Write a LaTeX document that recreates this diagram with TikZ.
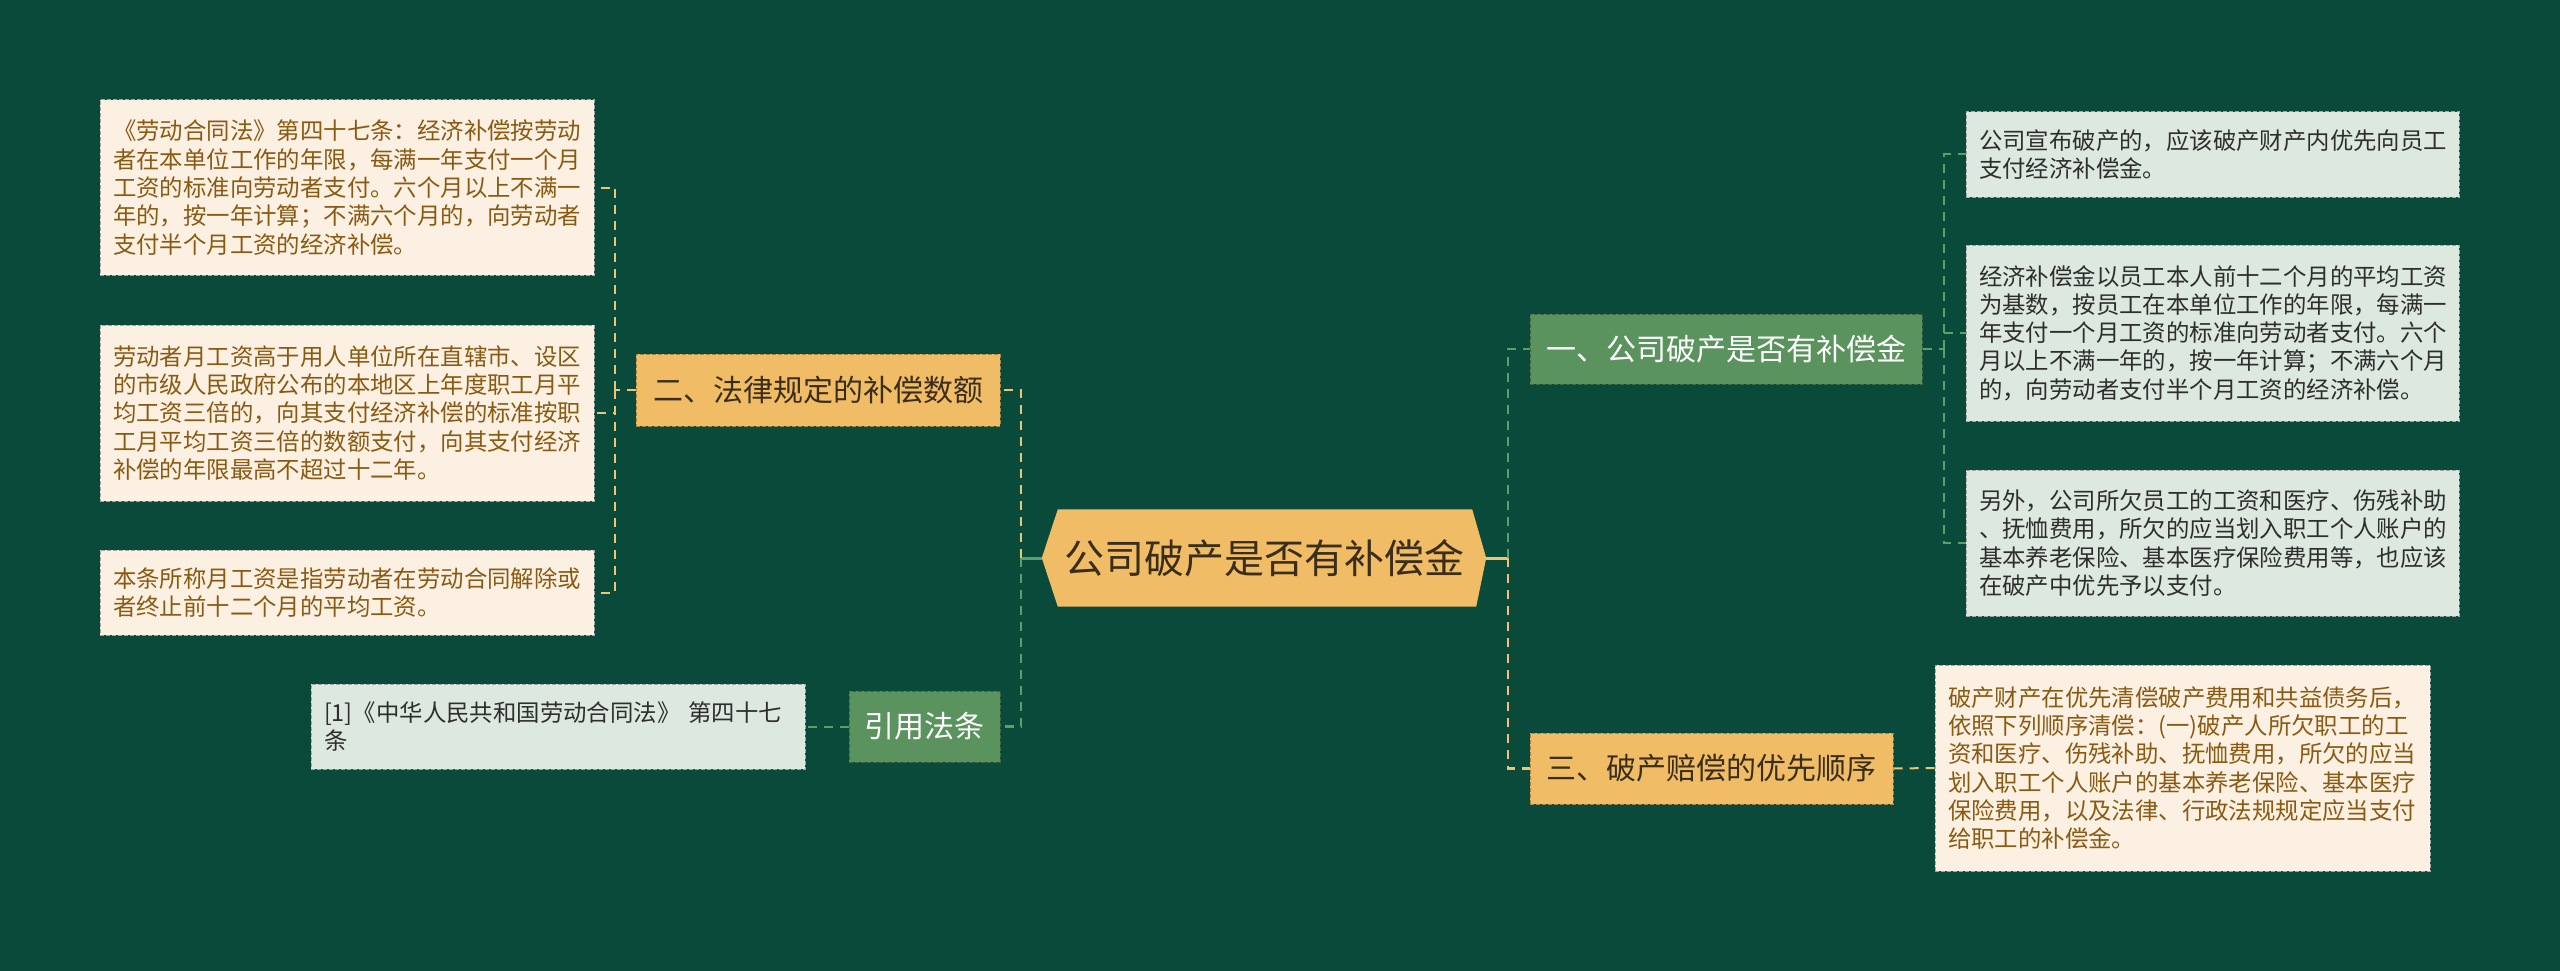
\documentclass[tikz,border=0pt]{standalone}
\usepackage{fontspec}
\newfontfamily\cjk{Noto Sans CJK SC}
\usetikzlibrary{backgrounds}
\definecolor{bgc}{HTML}{0A4A3A}
\definecolor{orng}{HTML}{F0BD66}
\definecolor{gnode}{HTML}{5A935E}
\definecolor{lgbox}{HTML}{DDE8DF}
\definecolor{cream}{HTML}{FCF0E2}
\definecolor{ylin}{HTML}{EEC46C}
\definecolor{glin}{HTML}{5E9E69}
\definecolor{brn}{HTML}{8A5A12}
\definecolor{dtxt}{HTML}{2E2E2E}
\definecolor{otxt}{HTML}{3A2E1A}
\tikzset{
  txtbox/.style={draw=#1, dashed, dash pattern=on 4pt off 2pt, line width=1pt, inner xsep=13pt, inner ysep=0pt, align=left,
    font=\cjk\fontsize{23.4}{28.3}\selectfont},
  creambox/.style={txtbox=gray!70, fill=cream, text=brn},
  greenbox/.style={txtbox=gray!70, fill=lgbox, text=dtxt},
  onode/.style={fill=orng, draw=orng!70!black, dashed, dash pattern=on 4pt off 2pt, line width=1pt, inner sep=0pt, text=otxt, font=\cjk\fontsize{30}{34}\selectfont},
  gnodes/.style={fill=gnode, draw=gnode!70!black, dashed, dash pattern=on 4pt off 2pt, line width=1pt, inner sep=0pt, text=white, font=\cjk\fontsize{30}{34}\selectfont},
  ydash/.style={draw=ylin, line width=2.5pt, dash pattern=on 9pt off 7pt},
  gdash/.style={draw=glin, line width=2.5pt, dash pattern=on 9pt off 7pt},
  ythin/.style={draw=ylin, line width=2pt, dash pattern=on 9pt off 7pt},
  gthin/.style={draw=glin, line width=2pt, dash pattern=on 9pt off 7pt},
}
\begin{document}
\begin{tikzpicture}[x=1pt,y=-1pt]
\begin{scope}[on background layer]
\fill[bgc] (0,0) rectangle (2560,971);
\end{scope}
\useasboundingbox (0,0) rectangle (2560,971);

% center
\node[inner sep=0pt, minimum width=444pt, minimum height=97pt, text=otxt, font=\cjk\fontsize{40}{44}\selectfont] (c) at (1264,558) {公司破产是否有补偿金};
\begin{scope}[on background layer]
\fill[orng] (c.west) -- ([xshift=16pt]c.north west) -- ([xshift=-14pt]c.north east) -- (c.east) -- ([xshift=-10pt]c.south east) -- ([xshift=16pt]c.south west) -- cycle;
\end{scope}

% left branch nodes
\node[onode, minimum width=364pt, minimum height=72pt] (n2) at (818,390) {二、法律规定的补偿数额};
\node[gnodes, minimum width=151pt, minimum height=71pt] (yin) at (924.5,726.5) {引用法条};

\node[creambox, text width=468pt, minimum height=175pt] (A) at (347,187.5) {《劳动合同法》第四十七条：经济补偿按劳动\\者在本单位工作的年限，每满一年支付一个月\\工资的标准向劳动者支付。六个月以上不满一\\年的，按一年计算；不满六个月的，向劳动者\\支付半个月工资的经济补偿。};
\node[creambox, text width=468pt, minimum height=176pt] (B) at (347,413) {劳动者月工资高于用人单位所在直辖市、设区\\的市级人民政府公布的本地区上年度职工月平\\均工资三倍的，向其支付经济补偿的标准按职\\工月平均工资三倍的数额支付，向其支付经济\\补偿的年限最高不超过十二年。};
\node[creambox, text width=468pt, minimum height=85pt] (C) at (347,592.5) {本条所称月工资是指劳动者在劳动合同解除或\\者终止前十二个月的平均工资。};
\node[greenbox, text width=468pt, minimum height=85pt] (ref) at (558,726.5) {[1]《中华人民共和国劳动合同法》 第四十七\\条};

% right branch nodes
\node[gnodes, minimum width=392pt, minimum height=70pt] (n1) at (1726,349) {一、公司破产是否有补偿金};
\node[onode, minimum width=363pt, minimum height=71pt] (n3) at (1711.5,768.5) {三、破产赔偿的优先顺序};

\node[greenbox, text width=467pt, minimum height=85pt] (R1) at (2212.5,154.5) {公司宣布破产的，应该破产财产内优先向员工\\支付经济补偿金。};
\node[greenbox, text width=467pt, minimum height=176pt] (R2) at (2212.5,333) {经济补偿金以员工本人前十二个月的平均工资\\为基数，按员工在本单位工作的年限，每满一\\年支付一个月工资的标准向劳动者支付。六个\\月以上不满一年的，按一年计算；不满六个月\\的，向劳动者支付半个月工资的经济补偿。};
\node[greenbox, text width=467pt, minimum height=146pt] (R3) at (2212.5,543) {另外，公司所欠员工的工资和医疗、伤残补助\\、抚恤费用，所欠的应当划入职工个人账户的\\基本养老保险、基本医疗保险费用等，也应该\\在破产中优先予以支付。};
\node[creambox, text width=469pt, minimum height=206pt] (R4) at (2182.5,768) {破产财产在优先清偿破产费用和共益债务后，\\依照下列顺序清偿：(一)破产人所欠职工的工\\资和医疗、伤残补助、抚恤费用，所欠的应当\\划入职工个人账户的基本养老保险、基本医疗\\保险费用，以及法律、行政法规规定应当支付\\给职工的补偿金。};

% junctions
\coordinate (jl) at (1021,558);
\coordinate (jr) at (1508,558);
\coordinate (j2) at (615,390);
\coordinate (j1) at (1944,349);

% connectors
\draw[glin, line width=3pt] (c.west) -- (jl);
\draw[ylin, line width=3pt] (c.east) -- (jr);
\draw[ydash] (jl) |- (n2.east);
\draw[gdash] (jl) |- (yin.east);
\draw[gdash] (jr) |- (n1.west);
\draw[ydash] (jr) |- (n3.west);

\draw[ythin] (n2.west) -- (j2);
\draw[ythin] (j2) |- (A.east);
\draw[ythin] (j2) |- (B.east);
\draw[ythin] (j2) |- (C.east);

\draw[gthin] (yin.west) -- (ref.east);

\draw[gthin] (n1.east) -- (j1);
\draw[gthin] (j1) |- (R1.west);
\draw[gthin] (j1) |- (R2.west);
\draw[gthin] (j1) |- (R3.west);

\draw[ythin] (n3.east) -- (R4.west);
\end{tikzpicture}
\end{document}
